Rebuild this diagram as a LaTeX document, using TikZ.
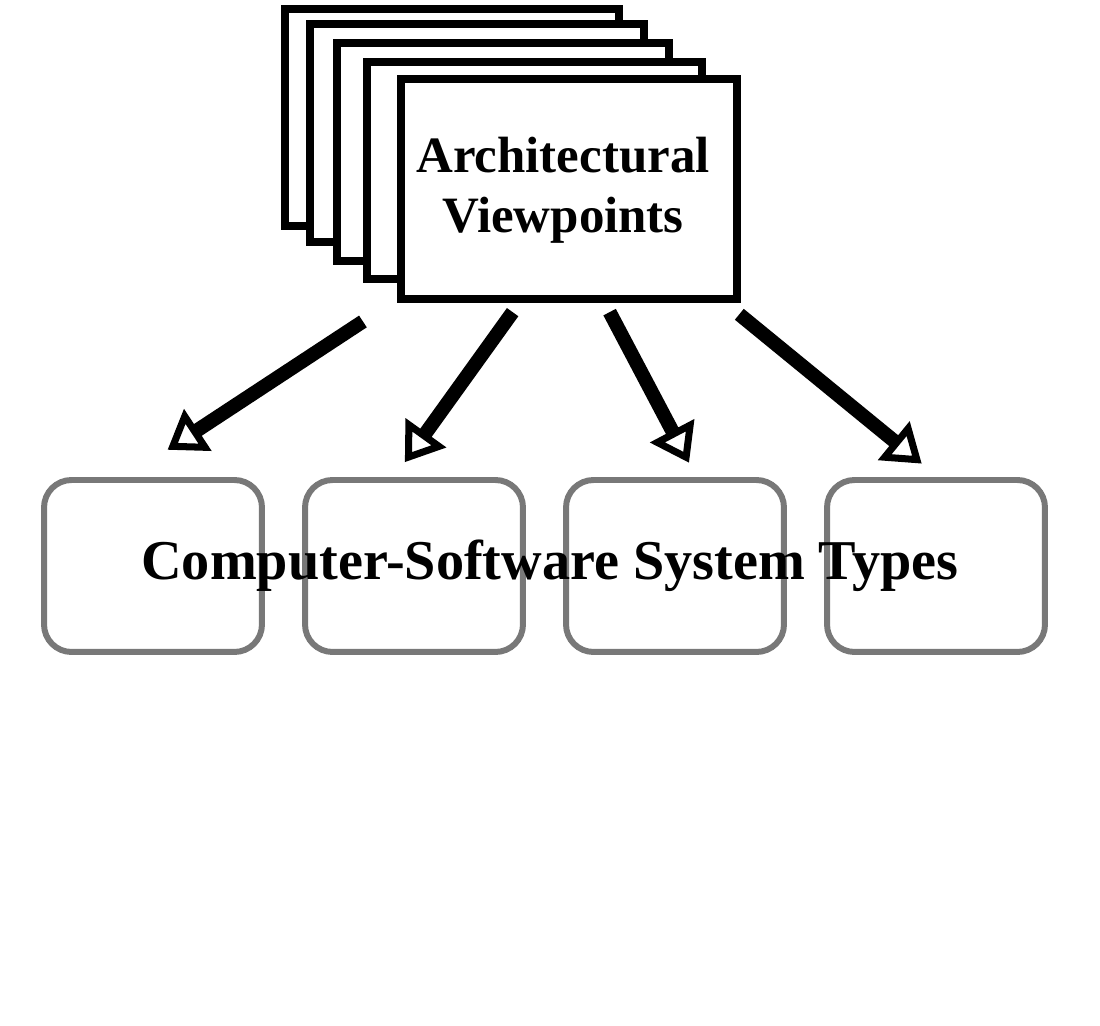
\documentclass[tikz,border=0pt]{standalone}
\usepackage{fontspec}
\setmainfont{Liberation Serif}
\usetikzlibrary{shapes.arrows}
\tikzstyle{sheet} = [rectangle, draw=black, line width=4.5pt, fill=white, anchor=north west]
\tikzstyle{typebox} = [rectangle, rounded corners=0.55cm, draw=black!53, line width=3.4pt, minimum width=4.36cm, minimum height=3.44cm]
\tikzstyle{hollow} = [single arrow, draw=black, line width=4pt, fill=white, minimum width=0.4cm, single arrow head extend=0.3cm, single arrow tip angle=70, inner sep=0pt, outer sep=0pt]

\begin{document}
\begin{tikzpicture}[x=0.02cm, y=-0.02cm]
    \path[use as bounding box] (0,0) rectangle (1100,1026);

    % Stack of viewpoint sheets
    \node (sheetA) [sheet, minimum width=6.68cm, minimum height=4.34cm] at (281,5) {};
    \node (sheetB) [sheet, minimum width=6.68cm, minimum height=4.36cm] at (306,20) {};
    \node (sheetC) [sheet, minimum width=6.64cm, minimum height=4.36cm] at (333,39) {};
    \node (sheetD) [sheet, minimum width=6.7cm, minimum height=4.34cm] at (363,58) {};
    \node (front) [sheet, minimum width=6.72cm, minimum height=4.4cm] at (397,75) {};
    \node (title) [align=center, font=\bfseries\fontsize{29}{34}\selectfont] at (563,190) {Architectural\\Viewpoints};

    % System type boxes
    \node (typeA) [typebox] at (153,566) {};
    \node (typeB) [typebox] at (414,566) {};
    \node (typeC) [typebox] at (675,566) {};
    \node (typeD) [typebox] at (936,566) {};
    \node (types) [font=\bfseries\fontsize{32}{38}\selectfont] at (550,566) {Computer-Software System Types};

    % Hollow arrows
    \node (arrowA) [hollow, minimum height=4.48cm, rotate=213.3] at (268.5,383.5) {};
    \node (arrowB) [hollow, minimum height=3.5cm, rotate=234.3] at (461,384) {};
    \node (arrowC) [hollow, minimum height=3.21cm, rotate=-62.2] at (647.5,384) {};
    \node (arrowD) [hollow, minimum height=4.52cm, rotate=-39.3] at (827.5,386.5) {};

\end{tikzpicture}
\end{document}
